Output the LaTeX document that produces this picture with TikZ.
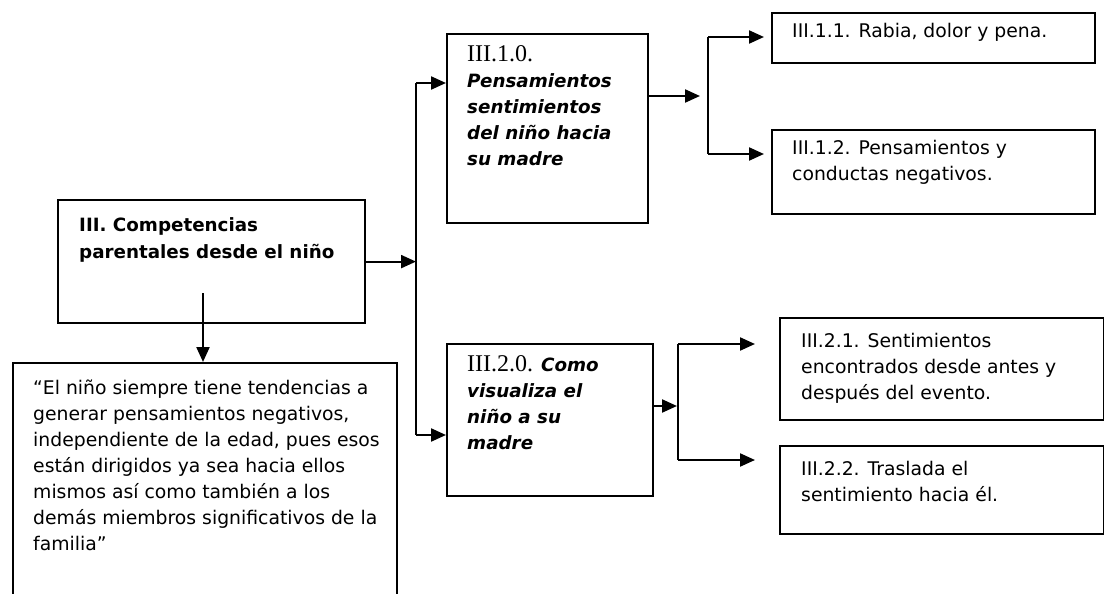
\documentclass[tikz,border=0pt]{standalone}
\usepackage{fontspec}
\setmainfont{DejaVu Sans}
\newfontfamily\numserif{Liberation Serif}
\usetikzlibrary{arrows.meta,calc}

% stacked lines whose baseline is the first line
\newcommand\stackrows[1]{\begin{tabular}[t]{@{}l@{}}#1\end{tabular}}
\newcommand\secnum[1]{{\numserif\fontsize{24}{26}\selectfont #1}}
\newcommand\bi[1]{{\fontsize{18.3}{26}\selectfont\bfseries\itshape #1}}

\tikzset{
  box/.style={draw, line width=2.2pt, inner sep=0pt, anchor=north west},
  boxtext/.style={anchor=base west, inner sep=0pt, font=\fontsize{18.8}{26}\selectfont},
  conn/.style={line width=2.2pt, -{Triangle[length=15pt,width=13pt]}},
  trunk/.style={line width=2.2pt},
}

\begin{document}
\begin{tikzpicture}[x=1pt, y=-1pt]
\clip (0,0) rectangle (1104,594);
\fill[white] (0,0) rectangle (1104,594);

% boxes
\node[box, minimum width=307pt, minimum height=123pt] (main) at (57,199) {};
\node[box, minimum width=384pt, minimum height=260pt] (quote) at (12,362) {};
\node[box, minimum width=201pt, minimum height=189pt] (b10) at (446,33) {};
\node[box, minimum width=323pt, minimum height=50pt] (b11) at (771,12) {};
\node[box, minimum width=323pt, minimum height=84pt] (b12) at (771,129) {};
\node[box, minimum width=206pt, minimum height=152pt] (b20) at (446,343) {};
\node[box, minimum width=324pt, minimum height=102pt] (b21) at (779,317) {};
\node[box, minimum width=324pt, minimum height=88pt] (b22) at (779,445) {};

% texts
\node[boxtext, font=\fontsize{18.3}{27}\selectfont\bfseries] (main-t) at (79,231)
  {\stackrows{III. Competencias\\ parentales desde el niño}};
\node[boxtext] (quote-t) at (33,394)
  {\stackrows{“El niño siempre tiene tendencias a\\
   generar pensamientos negativos,\\
   independiente de la edad, pues esos\\
   están dirigidos ya sea hacia ellos\\
   mismos así como también a los\\
   demás miembros significativos de la\\
   familia”}};
\node[boxtext] (b10-t) at (467,62)
  {\stackrows{\secnum{III.1.0.}\\ \bi{Pensamientos}\\ \bi{sentimientos}\\ \bi{del niño hacia}\\ \bi{su madre}}};
\node[boxtext] (b20-t) at (467,371)
  {\stackrows{\secnum{III.2.0.} \bi{Como}\\ \bi{visualiza el}\\ \bi{niño a su}\\ \bi{madre}}};
\node[boxtext] (b11-t) at (792,38) {III.1.1. Rabia, dolor y pena.};
\node[boxtext] (b12-t) at (792,154)
  {\stackrows{III.1.2. Pensamientos y\\ conductas negativos.}};
\node[boxtext] (b21-t) at (801,347)
  {\stackrows{III.2.1. Sentimientos\\ encontrados desde antes y\\ después del evento.}};
\node[boxtext] (b22-t) at (801,475)
  {\stackrows{III.2.2. Traslada el\\ sentimiento hacia él.}};

% main trunk
\coordinate (tk1top) at (416,83);
\coordinate (tk1bot) at (416,435);
\draw[trunk] (tk1top) -- (tk1bot);
\draw[conn] (main.east) -- (main.east -| tk1top);
\draw[conn] (tk1top) -- (tk1top -| b10.west);
\draw[conn] (tk1bot) -- (tk1bot -| b20.west);

% down to the quote
\coordinate (dn) at (203,293);
\draw[conn] (dn) -- (dn |- quote.north);

% first branch
\coordinate (b10o) at (b10.east |- 0,96);
\coordinate (b10tip) at (700,96);
\draw[conn] (b10o) -- (b10tip);
\coordinate (tk2top) at (708,37);
\coordinate (tk2bot) at (708,154);
\coordinate (a11) at (764,37);
\coordinate (a12) at (764,154);
\draw[trunk] (tk2top) -- (tk2bot);
\draw[conn] (tk2top) -- (a11);
\draw[conn] (tk2bot) -- (a12);

% second branch
\coordinate (b20o) at (b20.east |- 0,406);
\coordinate (b20tip) at (677,406);
\draw[conn] (b20o) -- (b20tip);
\coordinate (tk3top) at (678,344);
\coordinate (tk3bot) at (678,460);
\coordinate (a21) at (755,344);
\coordinate (a22) at (755,460);
\draw[trunk] (tk3top) -- (tk3bot);
\draw[conn] (tk3top) -- (a21);
\draw[conn] (tk3bot) -- (a22);
\end{tikzpicture}
\end{document}
